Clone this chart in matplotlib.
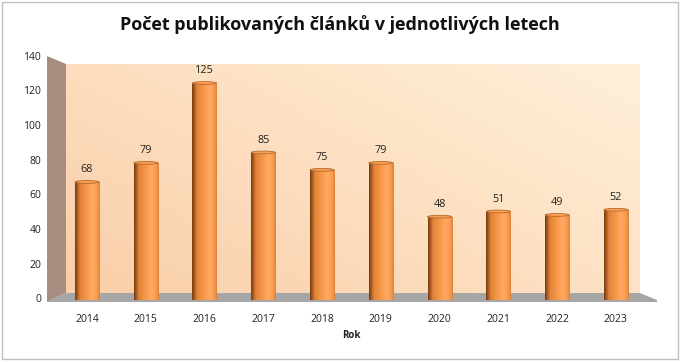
import numpy as np
import matplotlib
matplotlib.use("Agg")
import matplotlib.pyplot as plt
from matplotlib.patches import Polygon, Ellipse, Rectangle
from matplotlib.colors import LinearSegmentedColormap

years = ["2014", "2015", "2016", "2017", "2018", "2019", "2020", "2021", "2022", "2023"]
counts = [68, 79, 125, 85, 75, 79, 48, 51, 49, 52]
title = "Počet publikovaných článků v jednotlivých letech"
xlabel = "Rok"
yticks = [0, 20, 40, 60, 80, 100, 120, 140]

W, H = 680, 362
fig = plt.figure(figsize=(W / 100, H / 100), dpi=100)
fig.patch.set_facecolor("white")

def fx(px):
    return px / W

def fy(py):
    return 1 - py / H

# axes: front plane
ax = fig.add_axes([fx(47), fy(300), fx(657) - fx(47), fy(57) - fy(300)])
ax.set_xlim(-0.68, 9.7)
ax.set_ylim(0, 140)
ax.axis("off")

# figure border
fig.add_artist(Rectangle((fx(1.5), fy(359)), fx(676), fy(1.5) - fy(359), transform=fig.transFigure,
                         fill=False, edgecolor="#BFBFBF", linewidth=1.0))

# background wall (gradient)
yy, xx = np.mgrid[0:1:100j, 0:1:100j]
c_low = np.array([250, 206, 168]) / 255
c_high = np.array([255, 239, 216]) / 255
t = np.clip(0.45 * (1 - yy) + 0.6 * xx, 0, 1)[..., None]
wall = c_low * (1 - t) + c_high * t
wax = fig.add_axes([fx(66), fy(293), fx(640) - fx(66), fy(64) - fy(293)], zorder=-2)
wax.imshow(wall, aspect="auto", extent=[0, 1, 0, 1], origin="upper")
wax.axis("off")

# side wall
side = Polygon([(fx(47), fy(56)), (fx(66), fy(64)), (fx(66), fy(293)), (fx(47), fy(302))],
               closed=True, transform=fig.transFigure, facecolor="#A88E80", edgecolor="none", zorder=-1)
fig.add_artist(side)
# floor
floor = Polygon([(fx(47), fy(302)), (fx(66), fy(293)), (fx(640), fy(293)), (fx(657), fy(300)), (fx(657), fy(302))],
                closed=True, transform=fig.transFigure, facecolor="#A6A6A6", edgecolor="none", zorder=-1)
fig.add_artist(floor)

# bars
x = np.arange(len(years))
bw = 0.41
cyl = LinearSegmentedColormap.from_list("cyl", [
    (0.0, "#6E3A12"), (0.08, "#A5551C"), (0.2, "#E0843A"), (0.45, "#F79646"),
    (0.7, "#FFAA62"), (0.9, "#F59A50"), (1.0, "#D98035")])
bars = ax.bar(x, counts, width=bw, color="none", edgecolor="none", zorder=3)
grad = np.linspace(0, 1, 256)[None, :]
cap_h = 1.6
for b, v in zip(bars, counts):
    x0 = b.get_x()
    im = ax.imshow(grad, cmap=cyl, aspect="auto", extent=[x0, x0 + bw, 0, v], zorder=3, interpolation="bilinear")
    im.set_clip_path(b)
    ax.add_patch(Ellipse((x0 + bw / 2, 0), bw, cap_h, facecolor="#D98035", edgecolor="none", zorder=2.9))
    ax.add_patch(Ellipse((x0 + bw / 2, v), bw, cap_h, facecolor="#F8A058", edgecolor="#B8692A",
                         linewidth=0.6, zorder=4))
    ax.text(x0 + bw / 2, v + 4, str(v), ha="center", va="bottom", fontsize=7.8,
            color="#222222", family="Open Sans", zorder=5)

# y tick labels
for t_ in yticks:
    ax.text(-0.78, t_, str(t_), ha="right", va="center", fontsize=7.5, color="#222222",
            family="Open Sans", transform=ax.transData)
for xi, yl in zip(x, years):
    ax.text(xi, -11, yl, ha="center", va="center", fontsize=7.5, color="#222222", family="Open Sans")

fig.text(fx(351), fy(336), xlabel, ha="center", va="center", fontsize=7, fontweight="bold",
         family="Open Sans", color="#222222")
fig.text(fx(340), fy(25), title, ha="center", va="center", fontsize=13, fontweight="bold",
         family="Open Sans", color="#111111")

fig.savefig("out.png", dpi=100)
